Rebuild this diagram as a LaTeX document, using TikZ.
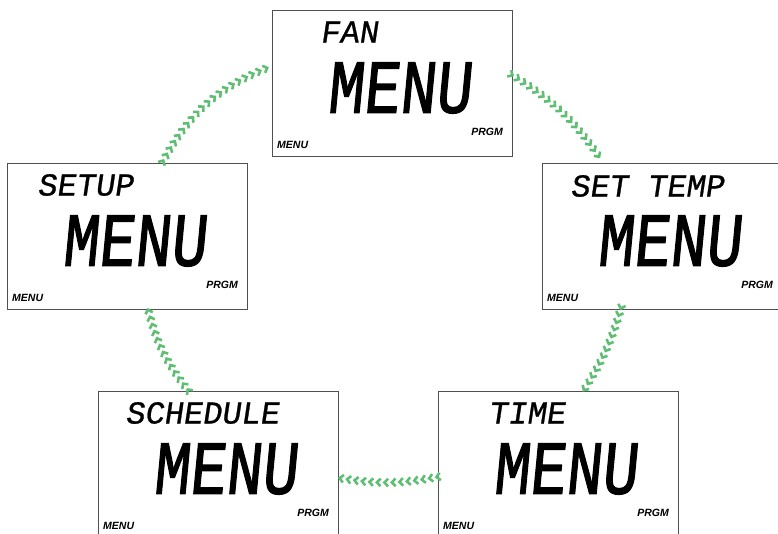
\documentclass[tikz,border=0pt]{standalone}
\usepackage{fontspec}
\usetikzlibrary{calc,decorations.markings}
\newfontfamily\lcdsmall[FakeSlant=0.15,FakeBold=0.8]{Liberation Mono}
\newfontfamily\lcdbig[FakeSlant=0.12,FakeBold=1.8]{Liberation Mono}
\newfontfamily\lblfont{Liberation Sans}
\definecolor{arrowgreen}{RGB}{96,190,116}
\definecolor{boxgray}{RGB}{80,80,80}
\tikzset{
  lcd/.style={draw=boxgray, line width=1.1pt, minimum width=240pt, minimum height=146pt, inner sep=0pt, anchor=north west},
  smalltxt/.style={inner sep=0pt, anchor=west, font=\lcdsmall\fontsize{32}{32}\selectfont},
  bigtxt/.style={inner sep=0pt, anchor=center},
  menulbl/.style={inner sep=0pt, anchor=west, font=\lblfont\bfseries\itshape\fontsize{10.5}{10.5}\selectfont},
  prgmlbl/.style={inner sep=0pt, anchor=east, font=\lblfont\bfseries\itshape\fontsize{10.5}{10.5}\selectfont},
  chev/.style={draw=none, decoration={markings, mark=between positions 0 and 1 step 7.5pt with {\draw[arrowgreen, line width=2.6pt] (-3.2pt,3.8pt) -- (0.5pt,0pt) -- (-3.2pt,-3.8pt);}}, postaction={decorate}}
}
\newcommand{\bigmenu}{\scalebox{0.79}[1]{\lcdbig\fontsize{76}{76}\selectfont MENU}}
\begin{document}
\begin{tikzpicture}[x=1pt,y=1pt]
\clip (0,0) rectangle (778,533);
\fill[white] (0,0) rectangle (778,533);
% boxes
\node[lcd] (fan) at (272,523) {};
\node[lcd] (setup) at (7,370) {};
\node[lcd] (settemp) at (542,370) {};
\node[lcd] (time) at (438,142) {};
\node[lcd] (sched) at (98,142) {};
% texts
\node[smalltxt] (fant) at ($(fan.north west)+(48,-22)$) {FAN};
\node[smalltxt] (setupt) at ($(setup.north west)+(30,-22)$) {SETUP};
\node[smalltxt] (settempt) at ($(settemp.north west)+(28,-23)$) {SET TEMP};
\node[smalltxt] (timet) at ($(time.north west)+(50,-22)$) {TIME};
\node[smalltxt] (schedt) at ($(sched.north west)+(27,-22)$) {SCHEDULE};
\foreach \b in {fan,setup,settemp,time,sched}{
  \node[bigtxt] (\b big) at ($(\b.north west)+(127,-78)$) {\bigmenu};
  \node[menulbl] (\b menu) at ($(\b.north west)+(5,-135)$) {MENU};
  \node[prgmlbl] (\b prgm) at ($(\b.north west)+(231,-122)$) {PRGM};
}
% connectors
\coordinate (a1) at (163,372);
\coordinate (b1) at (272,467);
\coordinate (a2) at (512,458);
\coordinate (b2) at (602,372);
\coordinate (a3) at (621,225);
\coordinate (b3) at (584,143);
\coordinate (a4) at (437,56);
\coordinate (b4) at (339,55);
\coordinate (a5) at (188,143);
\coordinate (b5) at (148,224);
\path[chev] (a1) to[bend left=20] (b1);
\path[chev] (a2) to[bend left=12] (b2);
\path[chev] (a3) to[bend left=8] (b3);
\path[chev] (a4) to[bend left=10] (b4);
\path[chev] (a5) to[bend left=12] (b5);
\end{tikzpicture}
\end{document}
